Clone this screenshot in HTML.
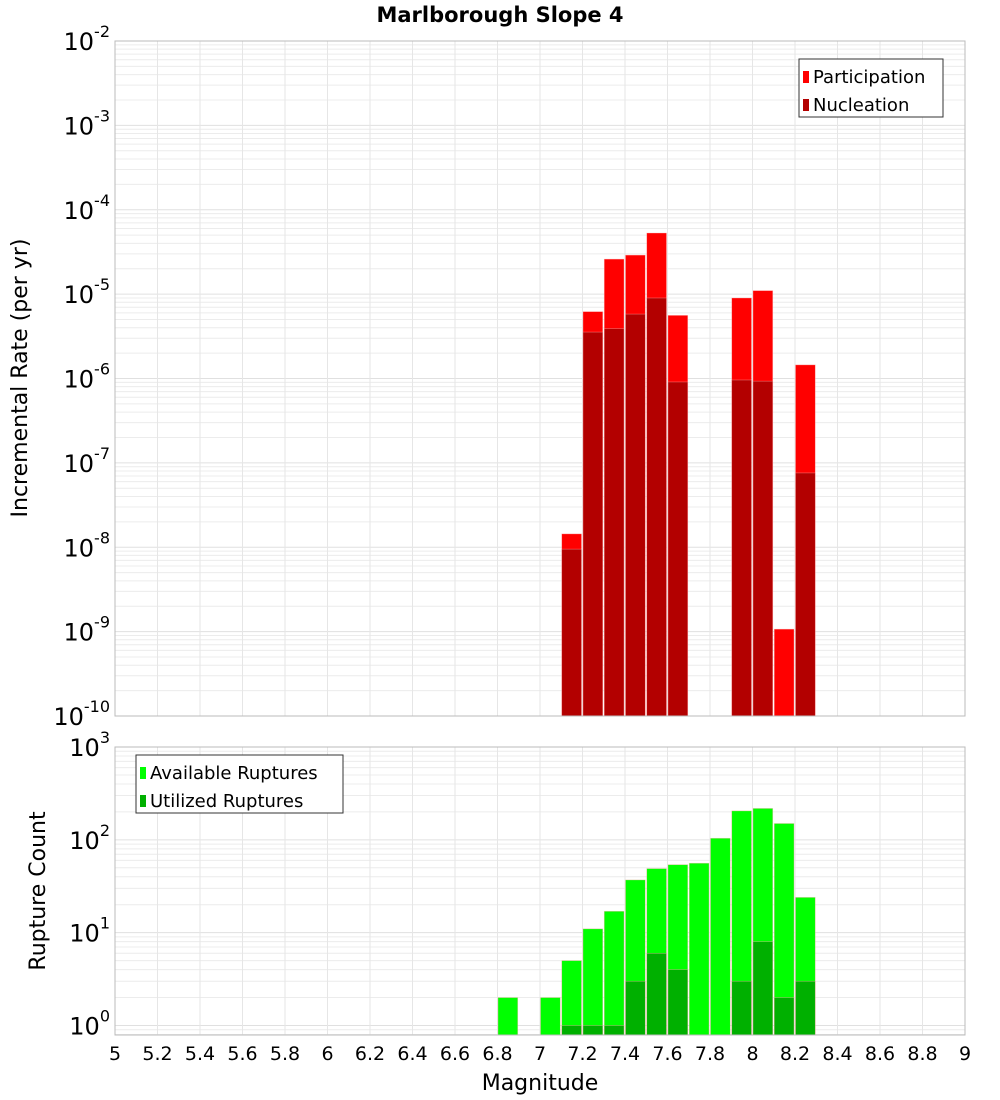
<!DOCTYPE html>
<html><head><meta charset="utf-8"><style>
body{margin:0;background:#fff;}
svg{display:block;font-family:"DejaVu Sans","Liberation Sans",sans-serif;}
</style></head><body>
<svg id="chart" width="1000" height="1100">
<text x="500" y="22" text-anchor="middle" font-size="21" font-weight="bold">Marlborough Slope 4</text>
<g id="top"></g><g id="bot"></g>
<text transform="translate(27,378) rotate(-90)" text-anchor="middle" font-size="22">Incremental Rate (per yr)</text>
<text transform="translate(45,891) rotate(-90)" text-anchor="middle" font-size="22">Rupture Count</text>
<text x="540" y="1090" text-anchor="middle" font-size="22">Magnitude</text>
</svg>
<script>
const rateMags=[7.1,7.2,7.3,7.4,7.5,7.6,7.9,8.0,8.1,8.2];
const participation=[1.44e-8,6.2e-6,2.6e-5,2.9e-5,5.3e-5,5.6e-6,9e-6,1.1e-5,1.07e-9,1.45e-6];
const nucleation=[9.5e-9,3.55e-6,3.9e-6,5.8e-6,9e-6,9.1e-7,9.6e-7,9.3e-7,0,7.6e-8];
const countMags=[6.8,7.0,7.1,7.2,7.3,7.4,7.5,7.6,7.7,7.8,7.9,8.0,8.1,8.2];
const available=[2,2,5,11,17,37,49,54,56,104,205,218,150,24];
const utilized=[0,0,1,1,1,3,6,4,0,0,3,8,2,3];
const xTicks=[5,5.2,5.4,5.6,5.8,6,6.2,6.4,6.6,6.8,7,7.2,7.4,7.6,7.8,8,8.2,8.4,8.6,8.8,9];
const topExps=[-10,-9,-8,-7,-6,-5,-4,-3,-2];
const botExps=[0,1,2,3];

const NS="http://www.w3.org/2000/svg";
const X0=115,X1=965;
const xs=m=>X0+(m-5)/4*(X1-X0);
function mk(parent,tag,attrs){const e=document.createElementNS(NS,tag);for(const k in attrs)e.setAttribute(k,attrs[k]);parent.appendChild(e);return e;}
function panel(g,yTop,yBot,lo,hi,yOf,exps,name){
  // grid
  for(let d=Math.floor(lo);d<Math.ceil(hi);d++){for(let k=1;k<10;k++){const v=d+Math.log10(k);if(v<lo||v>hi)continue;
    const l=mk(g,'line',{x1:X0,x2:X1,y1:yOf(v),y2:yOf(v),stroke:k==1?'#e0e0e0':'#ececec','stroke-width':1});
    
    }}
  xTicks.forEach(t=>{const l=mk(g,'line',{x1:xs(t),x2:xs(t),y1:yTop,y2:yBot,stroke:'#e6e6e6'});
    
    });
  exps.forEach(e=>{const t=mk(g,'text',{x:110,y:yOf(e)+9,'text-anchor':'end','font-size':24});
    
    
    t.innerHTML='10<tspan dy="-13" font-size="16">'+e+'</tspan>';});
}
function bar(g,m,v,yOf,yBot,fill,name){if(!(v>0))return;const y=yOf(Math.log10(v));
  const r=mk(g,'rect',{x:xs(m)+0.5,y:y,width:xs(m+0.1)-xs(m)-1.5,height:yBot-y,fill:fill,stroke:'#ffb0b0','stroke-width':0.6,'stroke-opacity':0.6});
  
  }
// top
const gt=document.getElementById('top');
const tT=41,tB=716,yT=v=>tB-(v+10)/8*(tB-tT);
panel(gt,tT,tB,-10,-2,yT,topExps,'top');
rateMags.forEach((m,i)=>bar(gt,m,participation[i],yT,tB,'#ff0000','participation-bar'));
rateMags.forEach((m,i)=>bar(gt,m,nucleation[i],yT,tB,'#b30000','nucleation-bar'));
mk(gt,'rect',{x:X0,y:tT,width:X1-X0,height:tB-tT,fill:'none',stroke:'#bbb'});
// bottom
const gb=document.getElementById('bot');
const bT=747,bB=1035,b0=1025.5,pd=(b0-bT)/3,yB=v=>b0-v*pd;
const lo=(b0-bB)/pd;
panel(gb,bT,bB,-(bB-b0)/pd,3,yB,botExps,'bottom');
countMags.forEach((m,i)=>bar(gb,m,available[i],yB,bB,'#00ff00','available-bar'));
countMags.forEach((m,i)=>bar(gb,m,utilized[i],yB,bB,'#00b000','utilized-bar'));
mk(gb,'rect',{x:X0,y:bT,width:X1-X0,height:bB-bT,fill:'none',stroke:'#bbb'});
xTicks.forEach(t=>{const tx=mk(gb,'text',{x:xs(t),y:1060,'text-anchor':'middle','font-size':19});
  
  
  tx.textContent=String(t);});
// legends
function legend(x,y,w,items,name){const g=mk(document.getElementById('chart'),'g',{});
  
  
  mk(g,'rect',{x:x,y:y,width:w,height:58,fill:'#fff',stroke:'#333'});
  items.forEach((it,i)=>{mk(g,'rect',{x:x+4,y:y+12+i*28,width:6,height:12,fill:it[1]});
    const t=mk(g,'text',{x:x+14,y:y+24+i*28,'font-size':18});
    
    
    t.textContent=it[0];});}
legend(799,59,144,[['Participation','#ff0000'],['Nucleation','#b30000']],'top-legend');
legend(136,755,207,[['Available Ruptures','#00ff00'],['Utilized Ruptures','#00b000']],'bottom-legend');
</script>
</body></html>
